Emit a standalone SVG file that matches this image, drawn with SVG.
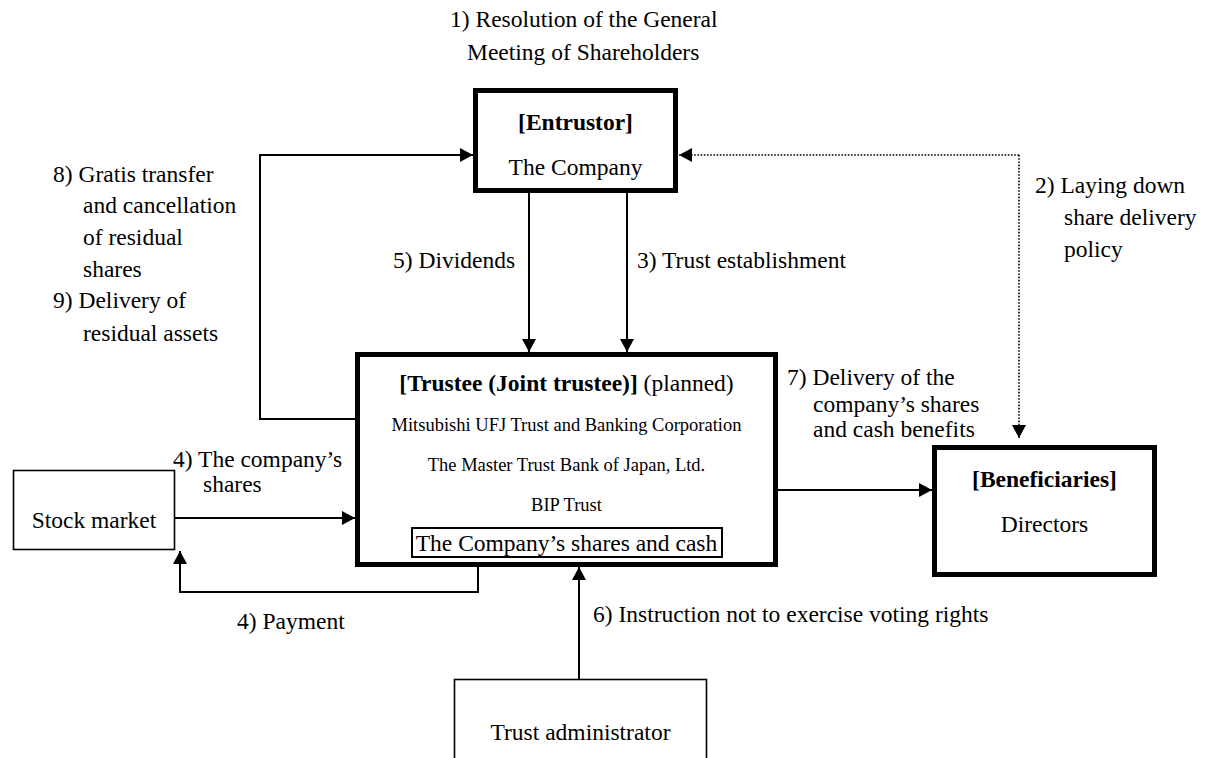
<svg xmlns="http://www.w3.org/2000/svg" width="1211" height="758" viewBox="0 0 1211 758">
<style>
text{font-family:"Liberation Serif","Times New Roman",serif;font-size:23.5px;fill:#000}
.b{font-weight:bold}
.s{font-size:18.5px}
.m{text-anchor:middle}
.thick{fill:#fff;stroke:#000;stroke-width:5}
.thin{fill:#fff;stroke:#000;stroke-width:1.6}
.c{fill:none;stroke:#000;stroke-width:2}
.d{fill:none;stroke:#000;stroke-width:1.6;stroke-dasharray:1.6 1.6}
</style>
<defs>
<marker id="ah" markerUnits="userSpaceOnUse" markerWidth="14" markerHeight="14" refX="13" refY="7" orient="auto">
<path d="M0,0 L13,7 L0,14 z" fill="#000"/>
</marker>
</defs>
<g id="connectors">
<polyline class="c" points="355,419 260,419 260,155 473,155" marker-end="url(#ah)"/>
<line class="c" x1="529" y1="193" x2="529" y2="352" marker-end="url(#ah)"/>
<line class="c" x1="627" y1="193" x2="627" y2="352" marker-end="url(#ah)"/>
<polyline class="d" points="1019,155 1019,438" marker-end="url(#ah)"/>
<polyline class="d" points="1019,155 679,155" marker-end="url(#ah)"/>
<line class="c" x1="175" y1="518" x2="355" y2="518" marker-end="url(#ah)"/>
<polyline class="c" points="478,567 478,592 180,592 180,551" marker-end="url(#ah)"/>
<line class="c" x1="579" y1="679" x2="579" y2="567" marker-end="url(#ah)"/>
<line class="c" x1="778" y1="490" x2="932" y2="490" marker-end="url(#ah)"/>
</g>
<g id="labels">
<text x="450" y="27">1) Resolution of the General</text>
<text x="467" y="60">Meeting of Shareholders</text>
<text x="53" y="182">8) Gratis transfer</text>
<text x="83" y="213">and cancellation</text>
<text x="83" y="245">of residual</text>
<text x="83" y="277">shares</text>
<text x="53" y="308">9) Delivery of</text>
<text x="83" y="341">residual assets</text>
<text x="393" y="268">5) Dividends</text>
<text x="637" y="268">3) Trust establishment</text>
<text x="1035" y="193">2) Laying down</text>
<text x="1064" y="225">share delivery</text>
<text x="1064" y="257">policy</text>
<text x="787" y="385">7) Delivery of the</text>
<text x="813" y="412">company’s shares</text>
<text x="813" y="437">and cash benefits</text>
<text x="173" y="467">4) The company’s</text>
<text x="203" y="492">shares</text>
<text x="237" y="629">4) Payment</text>
<text x="593" y="622">6) Instruction not to exercise voting rights</text>
</g>
<g id="entrustor">
<rect class="thick" x="475.5" y="90.5" width="200" height="100"/>
<text class="m b" x="575.5" y="130">[Entrustor]</text>
<text class="m" x="575.5" y="175">The Company</text>
</g>
<g id="trustee">
<rect class="thick" x="357.5" y="354.5" width="418" height="210"/>
<text class="m" x="566.5" y="391"><tspan class="b">[Trustee (Joint trustee)]</tspan> (planned)</text>
<text class="m s" x="566.5" y="431">Mitsubishi UFJ Trust and Banking Corporation</text>
<text class="m s" x="566.5" y="471">The Master Trust Bank of Japan, Ltd.</text>
<text class="m s" x="566.5" y="511">BIP Trust</text>
<rect fill="none" stroke="#000" stroke-width="2" x="412" y="528" width="310" height="29"/>
<text class="m" x="566.5" y="551">The Company’s shares and cash</text>
</g>
<g id="beneficiaries">
<rect class="thick" x="934.5" y="447.5" width="220" height="127"/>
<text class="m b" x="1044.5" y="487">[Beneficiaries]</text>
<text class="m" x="1044.5" y="532">Directors</text>
</g>
<g id="stock-market">
<rect class="thin" x="13.5" y="470.5" width="161" height="79"/>
<text class="m" x="94" y="528">Stock market</text>
</g>
<g id="trust-administrator">
<rect class="thin" x="454.5" y="679.5" width="252" height="100"/>
<text class="m" x="580.5" y="740">Trust administrator</text>
</g>
</svg>
